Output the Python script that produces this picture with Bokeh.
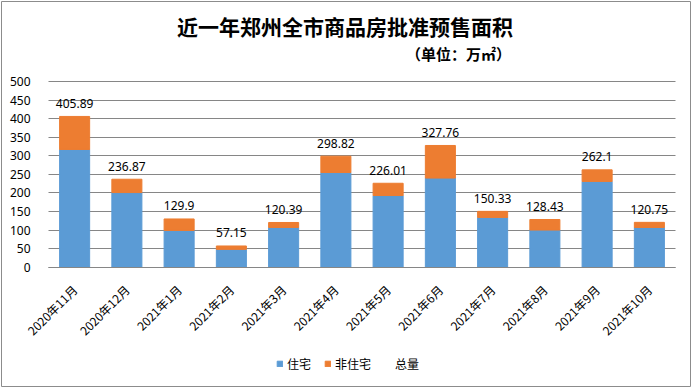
import math
from bokeh.plotting import figure
from bokeh.models import ColumnDataSource, Label, Legend, LegendItem, FixedTicker, Range1d
from bokeh.core.properties import value
from bokeh.embed import file_html
from bokeh.resources import INLINE

# ---- data ----
months = ["2020年11月", "2020年12月", "2021年1月", "2021年2月", "2021年3月", "2021年4月",
          "2021年5月", "2021年6月", "2021年7月", "2021年8月", "2021年9月", "2021年10月"]
totals = [405.89, 236.87, 129.9, 57.15, 120.39, 298.82, 226.01, 327.76, 150.33, 128.43, 262.1, 120.75]
residential = [317, 201, 99, 48, 107, 255, 193, 240, 134, 100, 231, 107]
non_residential = [round(t - r, 2) for t, r in zip(totals, residential)]
y_ticks = [0, 50, 100, 150, 200, 250, 300, 350, 400, 450, 500]

title_text = "近一年郑州全市商品房批准预售面积"
unit_text = "（单位：万㎡）"

BLUE = "#5B9BD5"
ORANGE = "#ED7D31"
GRID = "#868686"
BORDER = "#8c8c8c"
CJK = "Noto Sans CJK SC"

idx = list(range(len(months)))
source = ColumnDataSource(dict(
    idx=idx,
    month=months,
    res=residential,
    nonres=non_residential,
    total=totals,
    total_str=[str(t) for t in totals],
))

# layout (pixels)
W, H = 692, 388
F_LEFT, F_RIGHT, F_TOP, F_BOTTOM = 1, 690, 1, 386   # drawing frame (= chart border)
PLOT_LEFT, PLOT_RIGHT = 48, 675                       # category band area
Y0_PX, Y500_PX = 266.7, 81.0                          # value 0 / value 500
n = len(months)
ppx = (PLOT_RIGHT - PLOT_LEFT) / n
ppu = (Y0_PX - Y500_PX) / 500.0
x_lo = -0.5 - (PLOT_LEFT - F_LEFT) / ppx
x_hi = -0.5 + (F_RIGHT - PLOT_LEFT) / ppx
y_hi = (Y0_PX - F_TOP) / ppu
y_lo = -(F_BOTTOM - Y0_PX) / ppu

p = figure(x_range=Range1d(x_lo, x_hi), y_range=Range1d(y_lo, y_hi), width=W, height=H,
           output_backend="svg", toolbar_location=None, tools="")
p.title.visible = False
p.min_border_left = F_LEFT
p.min_border_right = W - F_RIGHT
p.min_border_top = F_TOP
p.min_border_bottom = H - F_BOTTOM
p.outline_line_color = BORDER
p.outline_line_width = 1
p.background_fill_color = "white"
p.border_fill_color = "white"

bars = p.vbar_stack(["res", "nonres"], x="idx", width=0.575, color=[BLUE, ORANGE],
                    source=source)
total_line = p.line(x="idx", y="total", source=source, line_alpha=0)

p.text(x="idx", y="total", text="total_str", source=source,
       text_align="center", text_baseline="middle", y_offset=-13,
       text_font=value("Noto Sans"), text_font_size="12px", text_color="#000000")

# x axis at value 0
p.xaxis.fixed_location = 0
p.xaxis.ticker = FixedTicker(ticks=idx)
p.xaxis.major_label_overrides = {i: m for i, m in zip(idx, months)}
p.xaxis.major_label_orientation = math.pi / 4
p.xaxis.major_label_text_font = CJK
p.xaxis.major_label_text_font_size = "12px"
p.xaxis.major_label_text_color = "#000000"
p.xaxis.major_tick_line_color = None
p.xaxis.minor_tick_line_color = None
p.xaxis.axis_line_color = GRID
p.xaxis.major_label_standoff = 14
p.xaxis.bounds = (-0.5, n - 0.5)

# y axis at the left edge of the category area
p.yaxis.fixed_location = -0.5
p.yaxis.ticker = FixedTicker(ticks=y_ticks)
p.yaxis.major_label_text_font = "Noto Sans"
p.yaxis.major_label_text_font_size = "12px"
p.yaxis.major_label_text_color = "#000000"
p.yaxis.major_tick_line_color = None
p.yaxis.minor_tick_line_color = None
p.yaxis.axis_line_color = None
p.yaxis.major_label_standoff = 12

p.xgrid.grid_line_color = None
yg = p.ygrid[0]
if "cross_bounds" in yg.properties():
    yg.cross_bounds = (-0.5, n - 0.5)
    yg.grid_line_color = GRID
    yg.grid_line_width = 1
else:
    yg.grid_line_color = None
    p.segment(x0=[-0.5] * len(y_ticks), x1=[n - 0.5] * len(y_ticks), y0=y_ticks, y1=y_ticks,
              line_color=GRID, line_width=1, level="underlay")

# title and unit (screen units from the frame's lower-left corner)
p.add_layout(Label(x=344.5 - F_LEFT, y=F_BOTTOM - 25, x_units="screen", y_units="screen",
                   text=title_text, text_font=CJK, text_font_size="21px",
                   text_font_style="bold", text_align="center", text_baseline="middle",
                   text_color="#000000"))
p.add_layout(Label(x=458 - F_LEFT, y=F_BOTTOM - 53, x_units="screen", y_units="screen",
                   text=unit_text, text_font=CJK, text_font_size="15px",
                   text_font_style="bold", text_align="center", text_baseline="middle",
                   text_color="#000000"))

legend = Legend(items=[
    LegendItem(label="住宅", renderers=[bars[0]]),
    LegendItem(label="非住宅", renderers=[bars[1]]),
    LegendItem(label="总量", renderers=[total_line]),
], orientation="horizontal", location=(276 - F_LEFT, F_BOTTOM - 365 - 7),
    padding=0, margin=0, spacing=13, label_standoff=4,
    glyph_width=7, glyph_height=7, label_height=14,
    label_text_font=CJK, label_text_font_size="12px", label_text_color="#000000",
    border_line_color=None, background_fill_alpha=0)
p.add_layout(legend, "center")

open("out.html", "w").write(file_html(p, INLINE))
